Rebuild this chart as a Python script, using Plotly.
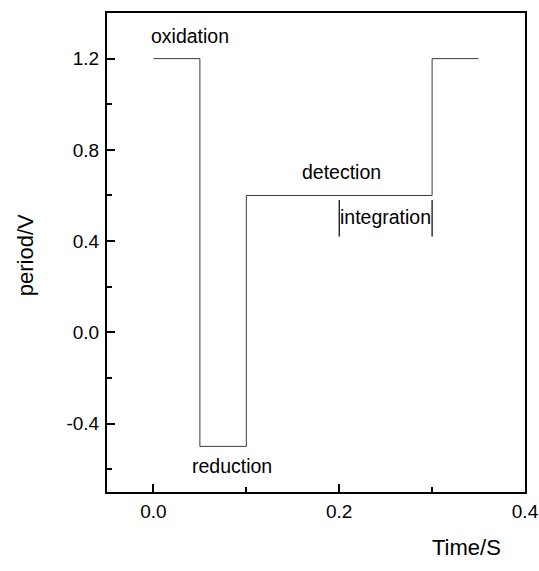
import plotly.graph_objects as go

# Waveform (time in s, potential in V)
time_s = [0.0, 0.05, 0.05, 0.10, 0.10, 0.30, 0.30, 0.35]
potential_v = [1.2, 1.2, -0.5, -0.5, 0.6, 0.6, 1.2, 1.2]

# Integration window markers
integ_x = [0.2, 0.3]
integ_y = [0.42, 0.58]

# Phase labels
label_text = ["oxidation", "reduction", "detection", "integration"]
label_x = [0.039, 0.085, 0.2025, 0.25]
label_y = [1.30, -0.587, 0.705, 0.505]

# Axis ticks
x_tick_vals = [0.0, 0.2, 0.4]
x_tick_text = ["0.0", "0.2", "0.4"]
x_minor_vals = [0.1, 0.3]
y_tick_vals = [-0.4, 0.0, 0.4, 0.8, 1.2]
y_tick_text = ["-0.4", "0.0", "0.4", "0.8", "1.2"]
y_minor_vals = [-0.6, -0.2, 0.2, 0.6, 1.0]

FONT = "Liberation Sans, Arial, sans-serif"

fig = go.Figure()
fig.add_trace(go.Scatter(x=time_s, y=potential_v, mode="lines",
                         line=dict(color="#3a3a3a", width=1), showlegend=False,
                         hoverinfo="skip"))
for xv in integ_x:
    fig.add_trace(go.Scatter(x=[xv, xv], y=integ_y, mode="lines",
                             line=dict(color="black", width=1.2), showlegend=False,
                             hoverinfo="skip"))

for t, xv, yv in zip(label_text, label_x, label_y):
    fig.add_annotation(x=xv, y=yv, xref="x", yref="y", text=t, showarrow=False,
                       xanchor="center", yanchor="middle",
                       font=dict(family=FONT, size=19.5, color="black"))

fig.add_annotation(x=0.861, y=-0.115, xref="paper", yref="paper", text="Time/S",
                   showarrow=False, xanchor="center", yanchor="middle",
                   font=dict(family=FONT, size=22, color="black"))
fig.add_annotation(x=-0.193, y=0.495, xref="paper", yref="paper", text="period/V",
                   showarrow=False, xanchor="center", yanchor="middle", textangle=-90,
                   font=dict(family=FONT, size=22, color="black"))

axis_common = dict(showline=True, linecolor="black", linewidth=2, mirror=True,
                   showgrid=False, zeroline=False, ticks="inside", tickcolor="black",
                   tickwidth=1.5, ticklen=8, tickmode="array", automargin=False,
                   tickfont=dict(family=FONT, size=19, color="black"))

fig.update_xaxes(range=[-0.05, 0.4], tickvals=x_tick_vals, ticktext=x_tick_text,
                 minor=dict(tickmode="array", tickvals=x_minor_vals, ticks="inside",
                            ticklen=5, tickcolor="black", tickwidth=1.5),
                 ticklabelstandoff=1, **axis_common)
fig.update_yaxes(range=[-0.7, 1.4], tickvals=y_tick_vals, ticktext=y_tick_text,
                 minor=dict(tickmode="array", tickvals=y_minor_vals, ticks="inside",
                            ticklen=5, tickcolor="black", tickwidth=1.5),
                 ticklabelstandoff=2, **axis_common)

fig.update_layout(width=539, height=571, margin=dict(l=107, r=14, t=13, b=79),
                  paper_bgcolor="white", plot_bgcolor="white",
                  font=dict(family=FONT, color="black"))

fig.write_html("out.html")
